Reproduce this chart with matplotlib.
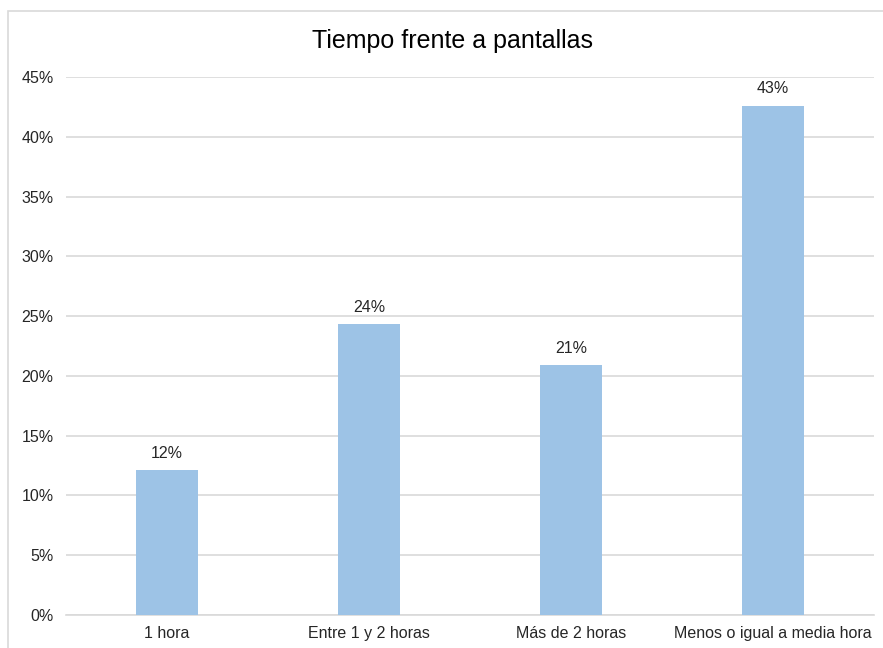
import matplotlib.pyplot as plt
from matplotlib.patches import Rectangle
from matplotlib.ticker import PercentFormatter

categories = ['1 hora', 'Entre 1 y 2 horas', 'Más de 2 horas', 'Menos o igual a media hora']
values = [12.1, 24.3, 20.9, 42.6]
labels = ['12%', '24%', '21%', '43%']

plt.rcParams['font.family'] = ['Liberation Sans', 'DejaVu Sans']

fig = plt.figure(figsize=(8.83, 6.48), dpi=100)
# chart border (right and bottom edges fall outside the picture)
fig.patches.append(Rectangle((8 / 883, -0.05), 1.1, 1 - 11 / 648 + 0.05,
                             transform=fig.transFigure, fill=False,
                             edgecolor='#D9D9D9', linewidth=1.2))

ax = fig.add_axes([66 / 883, 1 - 615 / 648, 808 / 883, 538 / 648])
x = range(len(categories))
ax.bar(x, values, width=0.31, color='#9DC3E6', zorder=3)

for i, v in enumerate(values):
    ax.text(i, v + 0.8, labels[i], ha='center', va='bottom', fontsize=11.5, color='#262626')

ax.set_ylim(0, 45)
ax.set_xlim(-0.5, len(categories) - 0.5)
ax.set_yticks(range(0, 46, 5))
ax.yaxis.set_major_formatter(PercentFormatter(decimals=0))
ax.set_xticks(list(x))
ax.set_xticklabels(categories)
ax.grid(axis='y', color='#D9D9D9', linewidth=1.2, zorder=0)
for s in ['top', 'right', 'left']:
    ax.spines[s].set_visible(False)
ax.spines['bottom'].set_color('#D9D9D9')
ax.spines['bottom'].set_linewidth(1.2)
ax.tick_params(axis='both', length=0, labelsize=11.5, colors='#262626')
ax.tick_params(axis='y', pad=9)
ax.tick_params(axis='x', pad=8)

fig.text(452 / 883, 1 - 41 / 648, 'Tiempo frente a pantallas', ha='center', va='center',
         fontsize=18, color='#000000')

plt.savefig('out.png', dpi=100)
